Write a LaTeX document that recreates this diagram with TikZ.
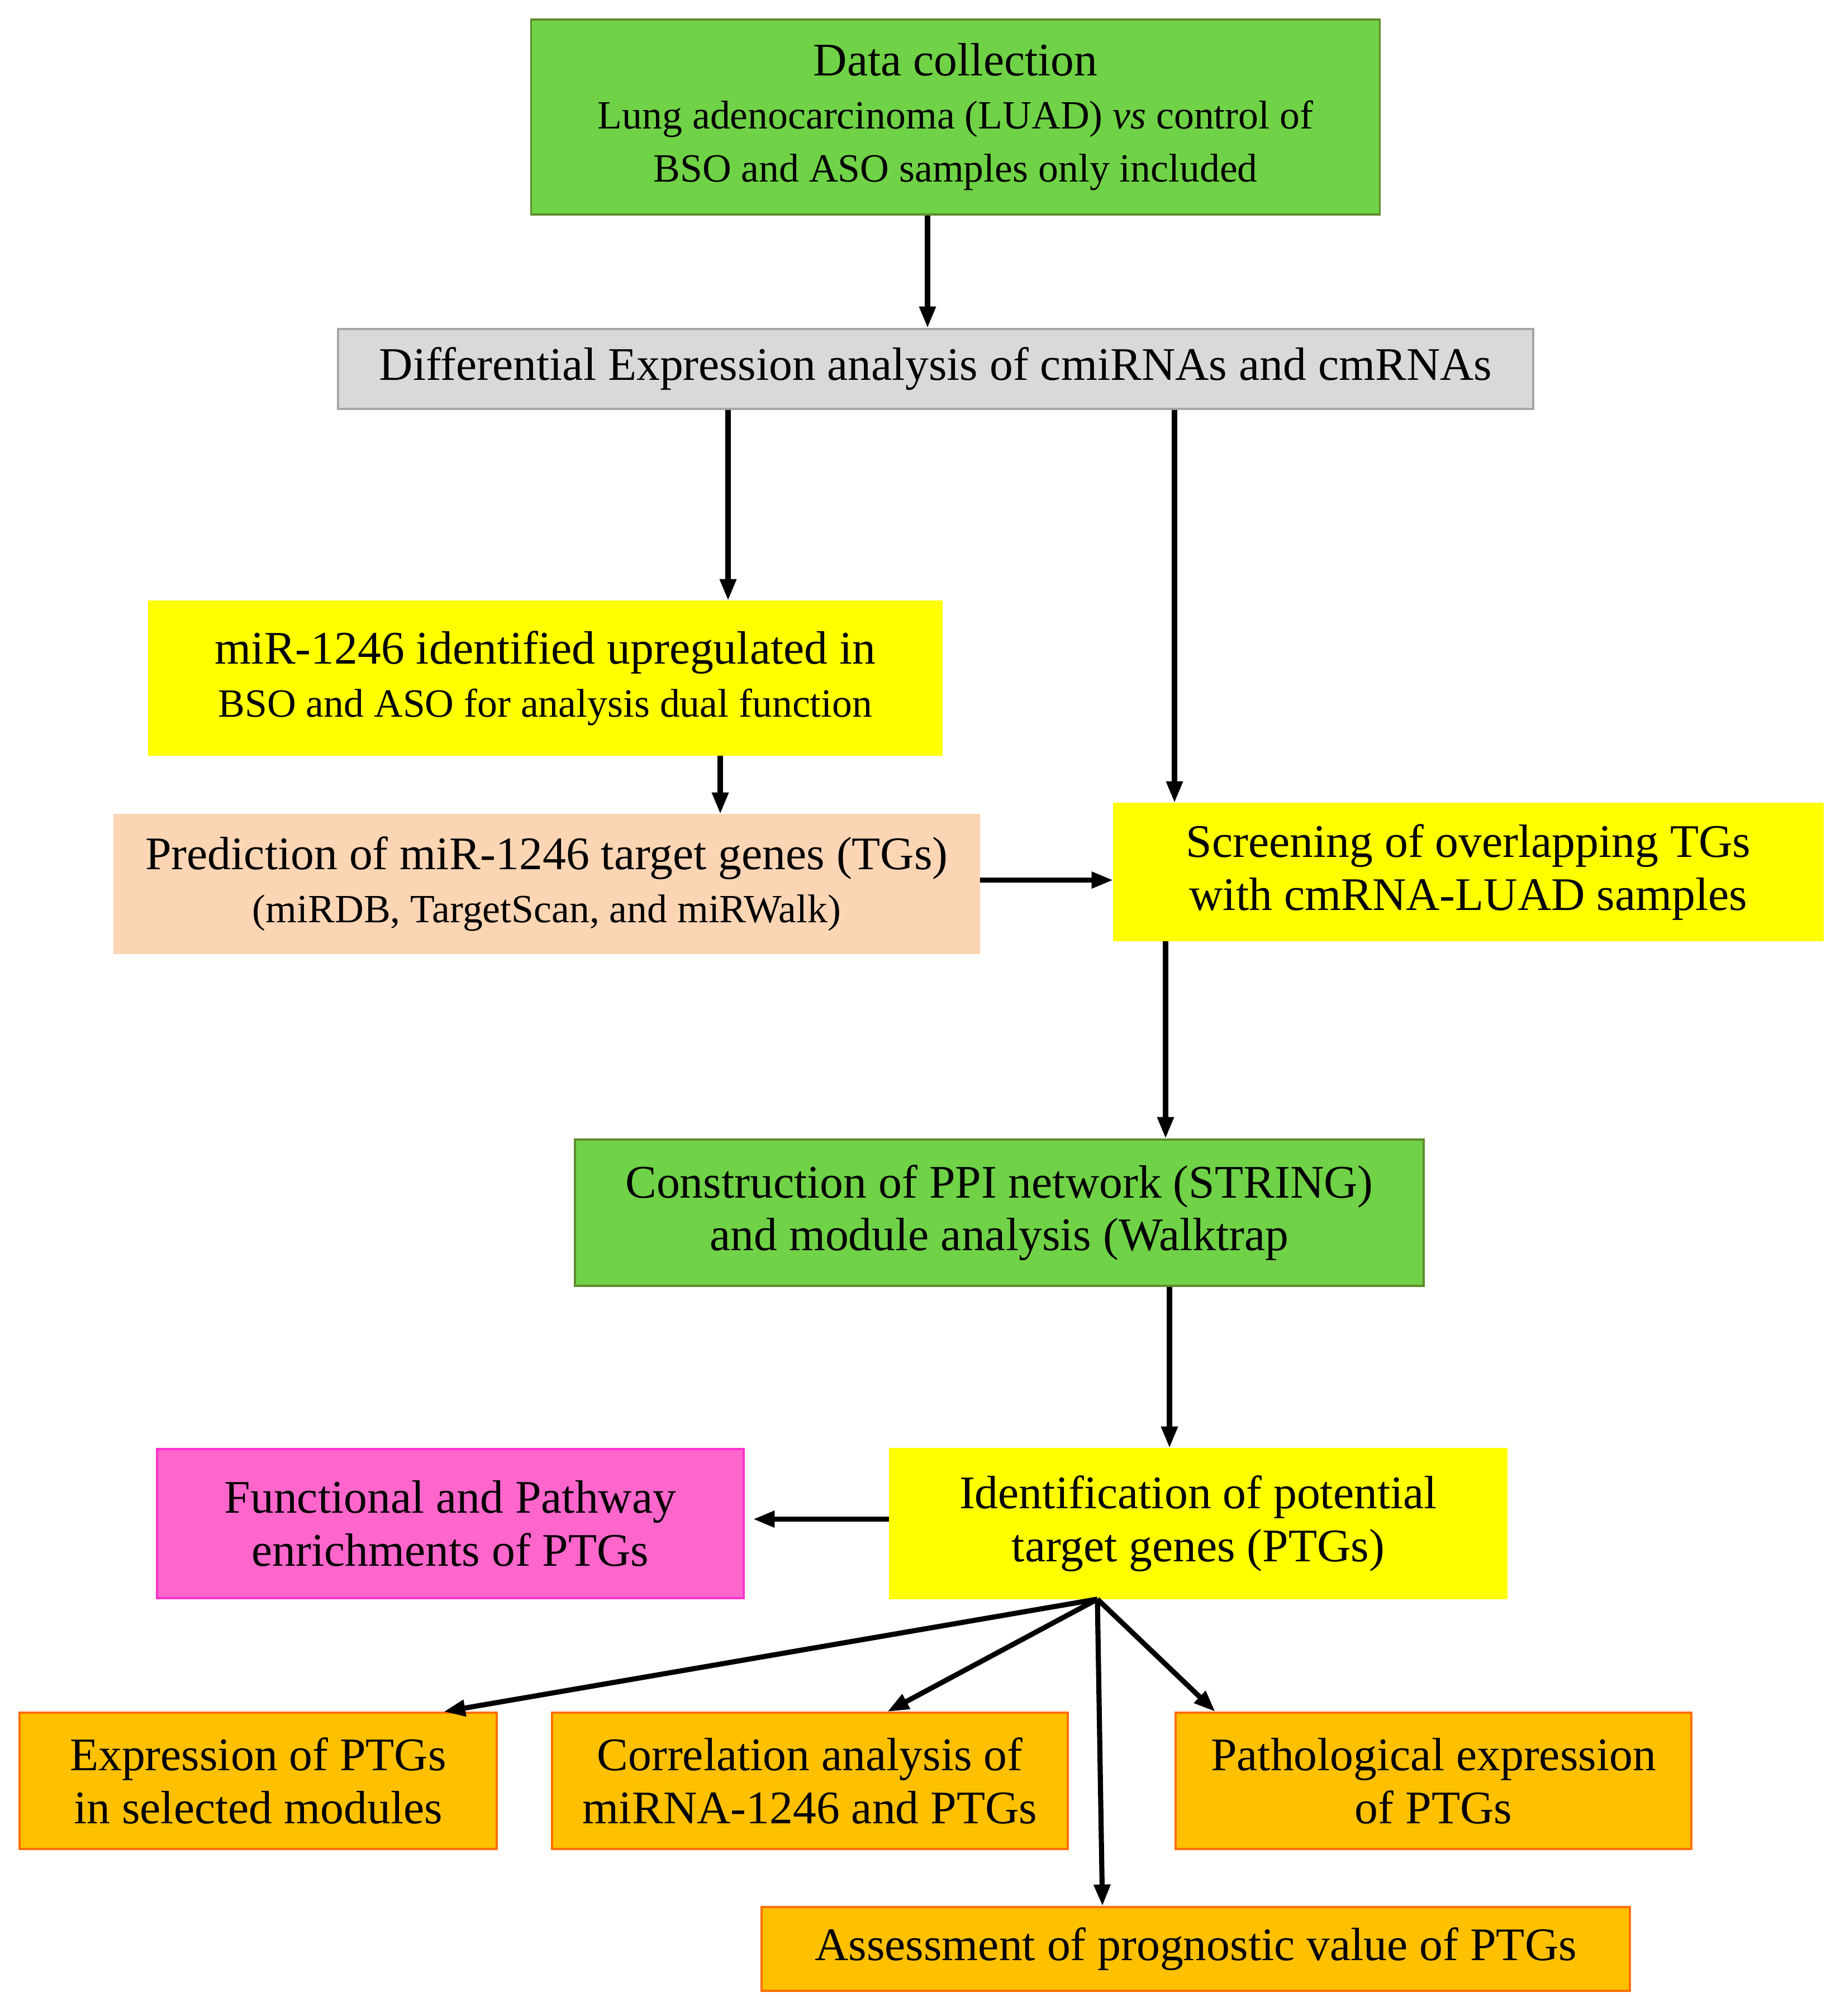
\documentclass[tikz,border=0pt]{standalone}
\usepackage{fontspec}
\setmainfont{Liberation Serif}
\usetikzlibrary{arrows.meta}

\definecolor{verde}{RGB}{112,210,70}
\definecolor{verdescuro}{RGB}{95,140,45}
\definecolor{grigio}{RGB}{217,217,217}
\definecolor{grigioscuro}{RGB}{166,166,166}
\definecolor{giallo}{RGB}{255,255,0}
\definecolor{pesca}{RGB}{252,213,180}
\definecolor{rosa}{RGB}{255,102,204}
\definecolor{rosascuro}{RGB}{255,51,204}
\definecolor{arancio}{RGB}{255,192,0}
\definecolor{arancioscuro}{RGB}{255,110,0}

\newcommand{\piccolo}{\fontsize{20.4}{24}\selectfont}

\begin{document}
\begin{tikzpicture}
    % Definizione stili
    \tikzstyle{box}=[draw, line width=1pt, align=center, inner sep=2pt, font=\fontsize{23.8}{27}\selectfont]
    \tikzstyle{greenbox}=[box, fill=verde, draw=verdescuro]
    \tikzstyle{greybox}=[box, fill=grigio, draw=grigioscuro]
    \tikzstyle{yellowbox}=[box, fill=giallo, draw=giallo]
    \tikzstyle{peachbox}=[box, fill=pesca, draw=pesca]
    \tikzstyle{pinkbox}=[box, fill=rosa, draw=rosascuro]
    \tikzstyle{orangebox}=[box, fill=arancio, draw=arancioscuro]
    \tikzstyle{flow}=[-{Triangle[length=11pt,width=8pt]}, line width=2.6pt]

    \useasboundingbox (0,0) rectangle (33.01,-36.09);

    % Raccolta dati e analisi differenziale
    \node[greenbox, minimum width=15.19cm, minimum height=3.49cm] (data) at (17.10,-2.095)
        {Data collection\\{\piccolo Lung adenocarcinoma (LUAD) \textit{vs} control of}\\{\piccolo BSO and ASO samples only included}};
    \node[greybox, minimum width=21.39cm, minimum height=1.43cm] (diff) at (16.745,-6.605)
        {Differential Expression analysis of cmiRNAs and cmRNAs};

    % Ramo del miR-1246
    \node[yellowbox, minimum width=14.18cm, minimum height=2.74cm] (mir) at (9.76,-12.14)
        {miR-1246 identified upregulated in\\{\piccolo BSO and ASO for analysis dual function}};
    \node[peachbox, minimum width=15.47cm, minimum height=2.47cm] (pred) at (9.785,-15.825)
        {Prediction of miR-1246 target genes (TGs)\\{\piccolo (miRDB, TargetScan, and miRWalk)}};
    \node[yellowbox, minimum width=12.68cm, minimum height=2.44cm] (screen) at (26.28,-15.61)
        {Screening of overlapping TGs\\with cmRNA-LUAD samples};

    % Rete PPI e geni bersaglio
    \node[greenbox, minimum width=15.19cm, minimum height=2.62cm] (ppi) at (17.885,-21.71)
        {Construction of PPI network (STRING)\\and module analysis (Walktrap};
    \node[yellowbox, minimum width=11.03cm, minimum height=2.67cm] (ptg) at (21.445,-27.275)
        {Identification of potential\\target genes (PTGs)};
    \node[pinkbox, minimum width=10.50cm, minimum height=2.67cm] (func) at (8.06,-27.275)
        {Functional and Pathway\\enrichments of PTGs};

    % Analisi finali
    \node[orangebox, minimum width=8.54cm, minimum height=2.44cm] (expr) at (4.62,-31.88)
        {Expression of PTGs\\in selected modules};
    \node[orangebox, minimum width=9.23cm, minimum height=2.44cm] (corr) at (14.495,-31.88)
        {Correlation analysis of\\miRNA-1246 and PTGs};
    \node[orangebox, minimum width=9.23cm, minimum height=2.44cm] (patho) at (25.655,-31.88)
        {Pathological expression\\of PTGs};
    \node[orangebox, minimum width=15.54cm, minimum height=1.50cm] (assess) at (21.40,-34.89)
        {Assessment of prognostic value of PTGs};

    % Frecce principali
    \draw[flow] ([xshift=-0.50cm]data.south) -- ([xshift=-0.50cm]data.south |- diff.north);
    \draw[flow] ([xshift=-3.715cm]diff.south) -- ([xshift=-3.715cm]diff.south |- mir.north);
    \draw[flow] ([xshift=4.275cm]diff.south) -- ([xshift=4.275cm]diff.south |- screen.north);
    \draw[flow] ([xshift=3.13cm]mir.south) -- ([xshift=3.13cm]mir.south |- pred.north);
    \draw[flow] ([yshift=0.07cm]pred.east) -- ([yshift=0.07cm]pred.east -| screen.west);
    \draw[flow] ([xshift=-5.42cm]screen.south) -- ([xshift=-5.42cm]screen.south |- ppi.north);
    \draw[flow] ([xshift=3.045cm]ppi.south) -- ([xshift=3.045cm]ppi.south |- ptg.north);
    \draw[flow] ([yshift=0.08cm]ptg.west) -- ([yshift=0.08cm,xshift=0.15cm]ptg.west -| func.east);

    % Frecce a ventaglio dai PTGs
    \draw[flow] ([xshift=-1.805cm]ptg.south) -- ([xshift=3.32cm]expr.north);
    \draw[flow] ([xshift=-1.805cm]ptg.south) -- ([xshift=1.385cm]corr.north);
    \draw[flow] ([xshift=-1.805cm]ptg.south) -- ([xshift=-1.67cm]assess.north);
    \draw[flow] ([xshift=-1.805cm]ptg.south) -- ([xshift=-3.905cm]patho.north);
\end{tikzpicture}
\end{document}
